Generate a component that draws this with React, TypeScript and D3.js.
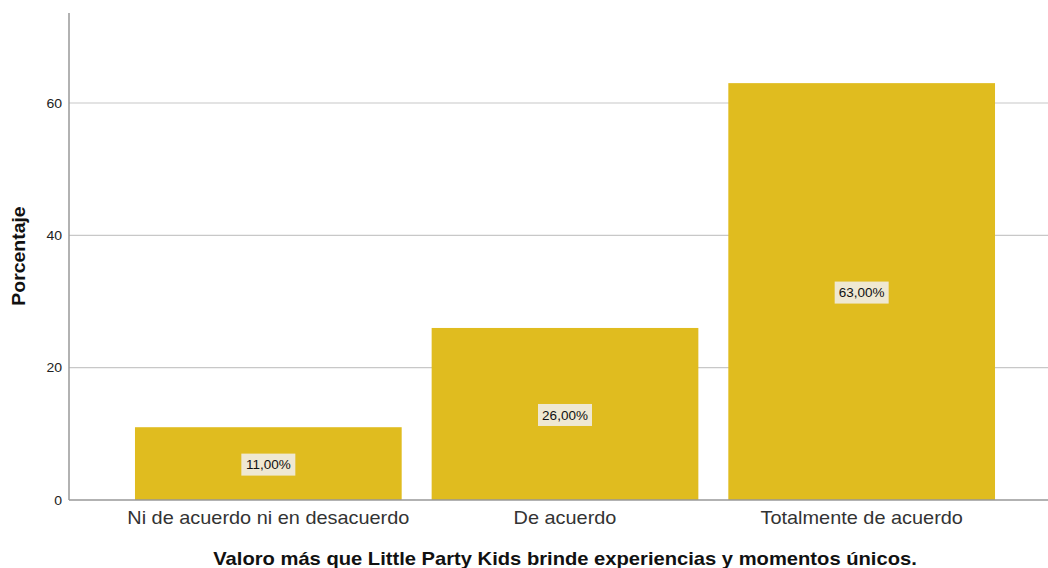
import React from "react";
import * as d3 from "d3";

const categories = ["Ni de acuerdo ni en desacuerdo", "De acuerdo", "Totalmente de acuerdo"];
const values = [11, 26, 63];
const valueLabels = ["11,00%", "26,00%", "63,00%"];
const yTicks = [0, 20, 40, 60];

const W = 1048;
const H = 568;
const axisX = 69;
const baseY = 500;
const topY = 13;

export default function App() {
  const x = d3.scaleBand<string>().domain(categories).range([120, 1010]).paddingInner(0.101).paddingOuter(0.0505);
  const y = d3.scaleLinear().domain([0, 73.6]).range([baseY, topY]);
  const font = "'Liberation Sans', Arial, sans-serif";
  return (
    <svg width={W} height={H} style={{ position: "absolute", left: 0, top: 0, background: "#fff" }} fontFamily={font}>
      {yTicks.filter((t) => t > 0).map((t) => (
        <line key={t} x1={axisX} x2={W} y1={y(t)} y2={y(t)} stroke="#c8c8c8" strokeWidth={1.2} />
      ))}
      {categories.map((c, i) => (
        <rect key={c} x={x(c)} y={y(values[i])} width={x.bandwidth()} height={baseY - y(values[i])} fill="#e0bc1f" />
      ))}
      <line x1={axisX} x2={axisX} y1={topY} y2={baseY} stroke="#999" strokeWidth={1.5} />
      <line x1={axisX} x2={W} y1={baseY} y2={baseY} stroke="#999" strokeWidth={1.5} />
      {yTicks.map((t) => (
        <text key={t} transform={`translate(${axisX - 7},${y(t)}) scale(1.08,1)`} dy="0.35em" textAnchor="end" fontSize={13} fill="#222">{t}</text>
      ))}
      {categories.map((c) => (
        <text key={c} transform={`translate(${(x(c) as number) + x.bandwidth() / 2},524) scale(1.106,1)`} textAnchor="middle" fontSize={18} fill="#333">{c}</text>
      ))}
      {categories.map((c, i) => {
        const cx = (x(c) as number) + x.bandwidth() / 2;
        const cy = (y(values[i]) + baseY) / 2;
        return (
          <g key={c}>
            <rect x={cx - 27} y={cy - 10} width={54} height={22} fill="#efe8d2" />
            <text transform={`translate(${cx},${cy + 1}) scale(1.08,1)`} dy="0.38em" textAnchor="middle" fontSize={12.5} fill="#111">{valueLabels[i]}</text>
          </g>
        );
      })}
      <text transform="translate(565,565) scale(1.12,1)" textAnchor="middle" fontSize={18} fontWeight="bold" fill="#111">Valoro más que Little Party Kids brinde experiencias y momentos únicos.</text>
      <text transform="translate(25,256) rotate(-90) scale(1.08,1)" textAnchor="middle" fontSize={18} fontWeight="bold" fill="#111">Porcentaje</text>
    </svg>
  );
}
